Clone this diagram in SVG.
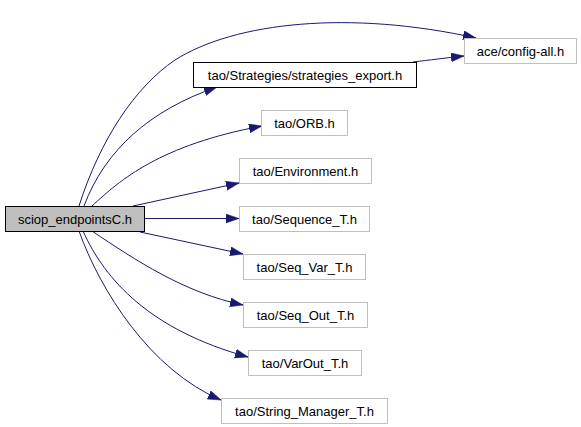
<svg xmlns="http://www.w3.org/2000/svg" width="581" height="427" viewBox="0 0 581 427">
<style>
.box{fill:#ffffff;stroke:#bfbfbf;stroke-width:1}
.main{fill:#bfbfbf;stroke:#000000;stroke-width:1}
.dark{fill:#ffffff;stroke:#000000;stroke-width:1}
text{font-family:"Liberation Sans",Arial,sans-serif;font-size:13px;fill:#000000;text-anchor:middle}
.edge{fill:none;stroke:#191970;stroke-width:1;marker-end:url(#arr)}
</style>
<defs>
<marker id="arr" markerUnits="userSpaceOnUse" markerWidth="15" markerHeight="11" refX="13" refY="4.5" orient="auto">
<path d="M0,0 L13,4.5 L0,9 Z" fill="#191970" stroke="#191970" stroke-width="0.5"/>
</marker>
</defs>
<rect width="581" height="427" fill="#ffffff"/>
<g id="edges">
<path class="edge" d="M79,206 C100,140 135,87 175,60 C235,22 350,10 476,38"/>
<path class="edge" d="M413,62 C430,60 445,58 464,56"/>
<path class="edge" d="M84,206 C105,150 150,110 217,87"/>
<path class="edge" d="M92,206 C120,180 160,145 262,126"/>
<path class="edge" d="M133,206 L239,183"/>
<path class="edge" d="M144,218.5 L239,218.5"/>
<path class="edge" d="M140,232 L243,254"/>
<path class="edge" d="M92,231 C135,260 185,293 243,305"/>
<path class="edge" d="M83,231 C105,280 150,330 248,357"/>
<path class="edge" d="M79,231 C100,290 150,370 221,400"/>
</g>
<g id="n_sciop"><rect class="main" x="5.5" y="206.5" width="139" height="25"/><text x="75" y="223.5">sciop_endpointsC.h</text></g>
<g id="n_config"><rect class="box" x="464.5" y="38.5" width="112" height="25"/><text x="520.5" y="55.5">ace/config-all.h</text></g>
<g id="n_strat"><rect class="dark" x="193.5" y="62.5" width="223" height="25"/><text x="305" y="79.5">tao/Strategies/strategies_export.h</text></g>
<g id="n_orb"><rect class="box" x="261.5" y="110.5" width="86" height="25"/><text x="304.5" y="127.5">tao/ORB.h</text></g>
<g id="n_env"><rect class="box" x="239.5" y="158.5" width="132" height="25"/><text x="305.5" y="175.5">tao/Environment.h</text></g>
<g id="n_seq"><rect class="box" x="239.5" y="206.5" width="130" height="25"/><text x="304.5" y="223.5">tao/Sequence_T.h</text></g>
<g id="n_seqvar"><rect class="box" x="243.5" y="254.5" width="122" height="25"/><text x="304.5" y="271.5">tao/Seq_Var_T.h</text></g>
<g id="n_seqout"><rect class="box" x="243.5" y="302.5" width="124" height="25"/><text x="305.5" y="319.5">tao/Seq_Out_T.h</text></g>
<g id="n_varout"><rect class="box" x="248.5" y="350.5" width="113" height="25"/><text x="305" y="367.5">tao/VarOut_T.h</text></g>
<g id="n_strmgr"><rect class="box" x="221.5" y="398.5" width="166" height="25"/><text x="304.5" y="415.5">tao/String_Manager_T.h</text></g>
</svg>
